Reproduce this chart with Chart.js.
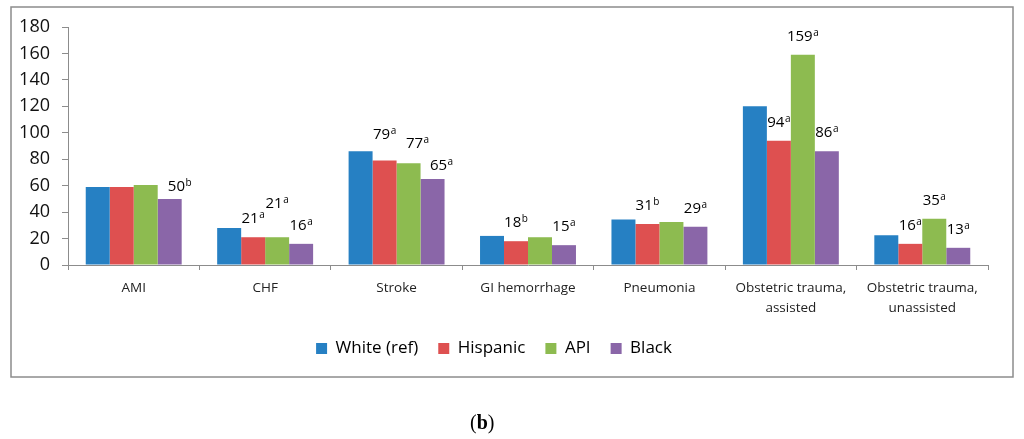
<!DOCTYPE html>
<html>
<head>
<meta charset="utf-8">
<script src="https://cdn.jsdelivr.net/npm/chart.js@4"></script>
<style>
html,body{margin:0;padding:0;background:#fff;}
#wrap{position:relative;width:1024px;height:439px;overflow:hidden;}
#cap{position:absolute;left:470px;top:410px;font-family:'Liberation Serif','Times New Roman',serif;font-size:20px;line-height:24px;color:#000;}
</style>
</head>
<body>
<div id="wrap">
<canvas id="c" width="1024" height="439"></canvas>
<div id="cap">(<b>b</b>)</div>
</div>
<script>
// ---- data ----
const categories = ['AMI', 'CHF', 'Stroke', 'GI hemorrhage', 'Pneumonia',
  ['Obstetric trauma,', 'assisted'], ['Obstetric trauma,', 'unassisted']];
const seriesNames = ['White (ref)', 'Hispanic', 'API', 'Black'];
const whiteValues    = [59, 28, 86, 22, 34.5, 120, 22.5];
const hispanicValues = [59, 21, 79, 18, 31, 94, 16];
const apiValues      = [60.5, 21, 77, 21, 32.5, 159, 35];
const blackValues    = [50, 16, 65, 15, 29, 86, 13];
// significance superscripts shown on data labels (null = no label)
const whiteSup    = [null, null, null, null, null, null, null];
const hispanicSup = [null, 'a', 'a', 'b', 'b', 'a', 'a'];
const apiSup      = [null, 'a', 'a', null, null, 'a', 'a'];
const blackSup    = ['b', 'a', 'a', 'a', 'a', 'a', 'a'];
const yMin = 0, yMax = 180, yStep = 20;

// ---- styles ----
const colors = ['#2680C3', '#DE5050', '#8DBB50', '#8A66A8'];
const FONT = "'Open Sans', 'Liberation Sans', sans-serif";
// label placement tweaks (series index - category index): dx shift, gap above bar top (to baseline)
const labelTweaks = {
  '3-0': {dx: 10, gap: 8},
  '2-1': {dx: 0, gap: 29},
  '1-2': {dx: 0, gap: 22},
  '2-2': {dx: 9, gap: 15},
  '3-2': {dx: 9, gap: 9}
};
const defaultGap = 14;

const allValues = [whiteValues, hispanicValues, apiValues, blackValues];
const allSup = [whiteSup, hispanicSup, apiSup, blackSup];

const borderPlugin = {
  id: 'outerBorder',
  beforeDraw(chart) {
    const ctx = chart.ctx;
    ctx.save();
    ctx.fillStyle = '#fff';
    ctx.fillRect(0, 0, chart.width, chart.height);
    ctx.strokeStyle = '#8c8c8c';
    ctx.lineWidth = 1.5;
    ctx.strokeRect(11, 7, 1002, 370);
    ctx.restore();
  }
};

const labelPlugin = {
  id: 'supLabels',
  afterDatasetsDraw(chart) {
    const ctx = chart.ctx;
    ctx.save();
    ctx.fillStyle = '#000';
    ctx.textBaseline = 'alphabetic';
    ctx.textAlign = 'left';
    allSup.forEach((sups, si) => {
      const meta = chart.getDatasetMeta(si);
      sups.forEach((sup, ci) => {
        if (!sup) return;
        const el = meta.data[ci];
        const num = String(Math.round(allValues[si][ci]));
        const tw = labelTweaks[si + '-' + ci] || {dx: 0, gap: defaultGap};
        ctx.font = "15px " + FONT;
        const w1 = ctx.measureText(num).width;
        ctx.font = "10px " + FONT;
        const w2 = ctx.measureText(sup).width;
        const total = w1 + w2 + 0.5;
        const x0 = el.x + tw.dx - total / 2;
        const base = el.y - tw.gap;
        ctx.font = "15px " + FONT;
        ctx.fillText(num, x0, base);
        ctx.font = "10px " + FONT;
        ctx.fillText(sup, x0 + w1 + 0.5, base - 5);
      });
    });
    ctx.restore();
  }
};

new Chart(document.getElementById('c'), {
  type: 'bar',
  data: {
    labels: categories,
    datasets: seriesNames.map((name, i) => ({
      label: name,
      data: allValues[i],
      backgroundColor: colors[i],
      borderWidth: 0,
      categoryPercentage: 0.73,
      barPercentage: 1.0
    }))
  },
  options: {
    responsive: false,
    animation: false,
    devicePixelRatio: 1,
    layout: {padding: {left: 0, right: 36, top: 27, bottom: 72}},
    plugins: {
      legend: {
        position: 'bottom',
        labels: {
          boxWidth: 11, boxHeight: 11, padding: 20,
          color: '#000',
          font: {family: FONT, size: 17}
        }
      },
      tooltip: {enabled: false}
    },
    scales: {
      x: {
        grid: {display: true, drawOnChartArea: false, drawTicks: true, tickLength: 5, color: '#8c8c8c', offset: true},
        border: {display: true, color: '#8c8c8c', width: 1},
        ticks: {color: '#222', font: {family: FONT, size: 13.5, lineHeight: 1.42}, padding: 9, maxRotation: 0, autoSkip: false},
        afterFit(scale) { scale.height = 55; }
      },
      y: {
        min: yMin, max: yMax,
        grid: {display: true, drawOnChartArea: false, drawTicks: true, tickLength: 6, color: '#8c8c8c'},
        border: {display: true, color: '#8c8c8c', width: 1},
        ticks: {stepSize: yStep, color: '#111', font: {family: FONT, size: 18}, padding: 12},
        afterFit(scale) { scale.width = 68; }
      }
    }
  },
  plugins: [borderPlugin, labelPlugin]
});
</script>
</body>
</html>
